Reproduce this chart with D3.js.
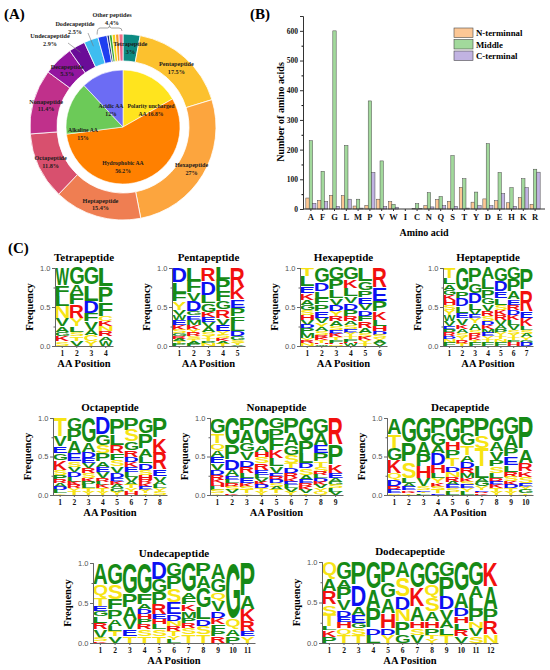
<!DOCTYPE html>
<html>
<head>
<meta charset="utf-8">
<script src="https://cdn.jsdelivr.net/npm/d3@7"></script>
<style>
body { margin: 0; background: #fff; }
</style>
</head>
<body>
<div id="fig"></div>
<script>
// ---------- data ----------
// (A) donut
var ringNames = ["Tetrapeptide", "Pentapeptide", "Hexapeptide", "Heptapeptide", "Octapeptide",
                 "Nonapeptide", "Decapeptide", "Undecapeptide", "Dodecapeptide",
                 "Other1", "Other2", "Other3", "Other4", "Other5", "Other6"];
var ringValues = [3, 17.5, 27, 15.4, 11.8, 11.4, 5.3, 2.9, 2.5, 1.6, 0.4, 0.5, 0.6, 0.6, 0.7];
var ringLabels = ["3%", "17.5%", "27%", "15.4%", "11.8%", "11.4%", "5.3%", "2.9%", "2.5%"];
var innerNames = ["Polarity uncharged", "Hydrophobic AA", "Alkaline AA", "Acidic AA"];
var innerValues = [16.8, 56.2, 15, 12];

// (B) bars
var aminoAcids = ["A","F","G","L","M","P","V","W","I","C","N","Q","S","T","Y","D","E","H","K","R"];
var nTerm  = [37, 29, 46, 45, 10, 12, 33, 25, 0, 2, 11, 32, 26, 73, 23, 34, 28, 21, 39, 16];
var middle = [230, 127, 600, 214, 33, 364, 162, 16, 0, 18, 55, 42, 180, 102, 57, 220, 123, 72, 102, 134];
var cTerm  = [19, 25, 9, 33, 3, 123, 8, 6, 0, 2, 7, 11, 9, 3, 11, 11, 52, 9, 72, 124];
var barTicks = [0, 100, 200, 300, 400, 500, 600];

// (C) sequence logos: one string per position, letters top to bottom with weights
var tetraLogo = [
  "W52 F33 L30 N35 V25 A17 G13 K15 S13",
  "G52 A28 F30 R40 Y25 L17 S13 T13 V15",
  "G52 L48 D35 F25 V25 A15 C18 Y15",
  "L55 P50 F40 C15 K15 N15 R15 A13 W15"];
var pentaLogo = [
  "D45 L30 F25 Y25 V15 W15 E15 K15 S10 G8 R8 A8 T8 P6",
  "L40 F35 V25 D30 G12 E13 M15 K15 Y10 R10 S8 T8 A6 P6",
  "R40 D40 L25 G25 K15 E15 V15 A15 S10 Y8 T8 P8 N6",
  "L35 P35 F30 G25 R25 V20 E20 Y10 S10 K8 A8 T7",
  "R60 K35 E25 P25 F20 L25 D15 G10 S8 Y6 V4"];
var hexaLogo = [
  "T25 L30 E20 K20 A15 G15 S15 H15 V15 D10 P15 M15 Y8 R7 N8",
  "G45 D25 L20 F20 P20 E20 V15 Y15 A10 S10 R8 K8 T7 H5 W5",
  "G35 P30 L25 V20 D20 Y15 R15 A15 S12 E10 K10 T8 F8 H5 N5",
  "G35 K25 L25 V20 D20 P20 R15 A12 S12 E10 Y10 T8 F8 H5 W8",
  "L40 G25 P20 E20 V20 D15 F15 R20 A15 S12 K10 Y8 T8",
  "R60 E40 P30 K25 L20 H15 D10 S10 Y8 A7 V8"];
var heptaLogo = [
  "T30 L20 A15 G15 K15 H15 S15 Y15 W20 V15 E10 P10 R10 D8 N10 F10",
  "G70 P20 D25 L20 E15 V20 K12 A12 S12 Y10 R10 T7",
  "P45 G30 D30 L20 V15 E10 Y15 A20 S12 R10 K8 T8 F10",
  "A35 L30 P25 G20 V20 R15 S15 D10 K12 M12 E10 Y10 T8 F11",
  "G40 D30 E20 L20 S15 K15 R15 V15 A12 P12 Y10 T8 N8 F13",
  "G35 P35 A25 E15 R15 D15 K15 L15 V15 S12 Y10 T8 F8 H10",
  "P65 R65 E20 K25 L12 S10 A10 Y8 G8 D10"];
var octaLogo = [
  "T57 V30 E20 G20 K30 S15 P15 R10 A10 D10 L10 Y5",
  "G37 P35 A35 E25 S15 V15 D15 L15 K10 R10 Y10 T10",
  "G77 A27 D18 E15 V15 R15 S15 K10 P10 L10 T10 Y10",
  "D50 G32 S25 P25 A15 E15 V20 R10 L10 K10 T10 Y10",
  "P50 L32 R25 F20 S20 V20 D15 E10 K10 A10 G10 Y10",
  "P37 S35 G25 R20 D15 K15 E15 L15 V15 A10 T10 Y10 H10",
  "G47 P45 A25 L20 D20 S15 H15 R10 K10 E10 Y10 T5",
  "P62 K45 R50 E20 V15 A10 L10 Y10 S10"];
var nonaLogo = [
  "G47 T30 Q20 A20 E20 V20 D15 R15 K10 H10 L10 S10 Y5",
  "G82 P45 D30 A20 E10 L10 R10 S10 V10 K5",
  "P37 A40 G25 V25 D20 R20 L15 E15 K10 S10 T10 Y5",
  "G82 A20 H15 S20 R20 E15 L10 V10 K10 D10 T10 Y10",
  "G32 P30 F35 K25 L25 V20 E10 R10 D10 S10 A10 T10 Y5",
  "P47 A35 G30 S25 T15 D15 R15 K10 E10 L10 V10 Y10",
  "G72 P35 L30 D15 S20 A15 E10 R10 K10 V10 T5",
  "G47 A35 E25 P25 T15 S15 R10 L10 D10 K10 V10 Y10 Q10",
  "R82 P60 K25 E15 A10 G10 S10 L10 V10"];
var decaLogo = [
  "A50 T42 G35 K40 Q20 D20 R10 E10 S5",
  "G77 P55 S50 L15 A10 E10 K5 R5 T5",
  "G72 A40 P35 H35 V25 S10 E5 T5 L5",
  "P47 G35 A25 D35 H25 L15 Y15 K10 S10 T10 E5",
  "G72 H25 P25 T25 D15 N15 R15 A10 E10 S10 L10",
  "P47 G35 T30 A20 D20 R15 M15 K10 S10 E10 Y10 L10",
  "P57 S35 T55 L35 A10 G15 Y10 E5 R5 K5",
  "G72 A30 V25 P20 S20 L15 R10 E10 K10 T10 Y10",
  "G52 A40 P25 E25 L20 R15 S15 K10 D10 T10 Y10",
  "P97 A40 R25 K15 S20 E10 Y10 G10 T5"];
var undecaLogo = [
  "A65 Q40 T25 E15 G15 L20 R20 V25 S10 K5",
  "G65 S45 F30 P30 A20 L15 T15 V20",
  "G95 P40 A35 V30 E20 T20",
  "G95 F30 A15 D15 H15 P15 R15 S20 T20",
  "D50 G40 P35 R30 E15 H15 L15 S20 T20",
  "G40 P40 S40 E35 D20 N15 R15 T15 Y10 L10",
  "G90 A15 F20 K20 M20 P15 R15 S20 T25",
  "P40 A35 G60 L35 D20 S25 T25",
  "A50 G40 Q25 V30 D20 K20 F20 P15 R20",
  "G170 Q30 A20 P20",
  "P100 A40 K35 R30 E15 Y20"];
var dodecaLogo = [
  "Q53 A35 R40 S30 T35 L10 K20 P18",
  "G53 A25 P35 V30 D20 E15 H20 Q20 T23",
  "P68 D65 A25 E25 G15 S20 T23",
  "G83 A55 P60 D20 L23",
  "P63 G45 A45 H45 D20 Y23",
  "A48 S55 D40 N35 P40 G23",
  "G78 K55 A45 H20 S20 V23",
  "G69 Q40 S40 A30 H20 P20 T12 Y12",
  "G44 P60 D40 V30 A25 L20 T24",
  "G89 A50 D25 H20 L20 R18 V21",
  "G74 A35 L35 P35 N20 V24 S20",
  "K74 A70 P35 R40 N24"];

// ---------- styles / layout ----------
var serif = "'Liberation Serif', 'Times New Roman', serif";
var ringColors = ["#0c8a82", "#fcc12e", "#fca53e", "#ef7e52", "#d8506e", "#c0308b", "#93159f",
                  "#6a0c98", "#3fbdf0", "#1f3ff0", "#1a2a80", "#38a838", "#f4d21a", "#f59a2a", "#f06c86"];
var innerColors = ["#ffe41e", "#ff8000", "#6cca58", "#6c6cf4"];
var barColors = ["#fcc795", "#a2d99c", "#c1b3e2"];
var aaColor = function(a) {
    if ("GAVLIPFWM".indexOf(a) >= 0) return "#168a16";
    if ("STYNQC".indexOf(a) >= 0) return "#f7e414";
    if ("DE".indexOf(a) >= 0) return "#0c10f2";
    return "#f2100e";
};

var svg = d3.select("#fig").append("svg")
    .attr("width", 550)
    .attr("height", 670)
    .style("font-family", serif);

svg.append("rect").attr("width", 550).attr("height", 670).attr("fill", "#fff");

var panelLab = [["(A)", 4, 19], ["(B)", 250, 19], ["(C)", 8, 253]];
panelLab.forEach(function(p) {
    svg.append("text").attr("x", p[1]).attr("y", p[2])
        .style("font-size", "15px").style("font-weight", "bold").text(p[0]);
});

// ---------- (A) donut ----------
var cx = 123, cy = 127;
var gA = svg.append("g").attr("transform", "translate(" + cx + "," + cy + ")");
var pie = d3.pie().sort(null).value(function(d) { return d; });
var ringArc = d3.arc().innerRadius(66).outerRadius(93);
var labelArc = d3.arc().innerRadius(80).outerRadius(80);
var innerArc = d3.arc().innerRadius(0).outerRadius(57);

var ringData = pie(ringValues);
gA.selectAll(".ring")
    .data(ringData)
    .enter().append("path")
    .attr("class", "ring")
    .attr("d", ringArc)
    .attr("fill", function(d, i) { return ringColors[i]; })
    .attr("stroke", "#fff")
    .attr("stroke-width", 0.8);

var innerData = pie(innerValues);
gA.selectAll(".inner")
    .data(innerData)
    .enter().append("path")
    .attr("class", "inner")
    .attr("d", innerArc)
    .attr("fill", function(d, i) { return innerColors[i]; })
    .attr("stroke", "#fff")
    .attr("stroke-width", 0.6);

var smallText = function(g, x, y, lines, size) {
    var t = g.append("text").attr("text-anchor", "middle")
        .style("font-size", (size || 6.2) + "px").style("font-weight", "bold").attr("fill", "#1c1c1c");
    lines.forEach(function(s, k) {
        t.append("tspan").attr("x", x).attr("y", y + k * 7.5).text(s);
    });
};

// labels inside the ring
ringData.slice(0, 7).forEach(function(d, i) {
    var c = labelArc.centroid(d);
    smallText(gA, c[0], c[1] - 1, [ringNames[i], ringLabels[i]]);
});

// outside labels with leader lines
var pt = function(d, r) {
    var a = (d.startAngle + d.endAngle) / 2;
    return [r * Math.sin(a), -r * Math.cos(a)];
};
var u = pt(ringData[7], 86);
gA.append("line").attr("x1", -55).attr("y1", -84).attr("x2", u[0]).attr("y2", u[1])
    .attr("stroke", "#777").attr("stroke-width", 0.6);
smallText(gA, -73, -89, [ringNames[7], ringLabels[7]]);
var dd = pt(ringData[8], 86);
gA.append("line").attr("x1", -35).attr("y1", -94).attr("x2", dd[0]).attr("y2", dd[1])
    .attr("stroke", "#777").attr("stroke-width", 0.6);
smallText(gA, -48, -101, [ringNames[8], ringLabels[8]]);

// brace over the small "other" slices
var a0 = ringData[9].startAngle, a1 = ringData[ringData.length - 1].endAngle;
var bx0 = 96 * Math.sin(a0), by0 = -96 * Math.cos(a0);
var bx1 = 96 * Math.sin(a1) - 1, by1 = -96 * Math.cos(a1);
var bm = (bx0 + bx1) / 2, bt = Math.min(by0, by1) - 3;
gA.append("path")
    .attr("d", "M" + bx0 + "," + by0 + " Q" + bx0 + "," + bt + " " + (bx0 + 3) + "," + bt +
        " L" + (bm - 2) + "," + bt + " Q" + bm + "," + bt + " " + bm + "," + (bt - 2.5) +
        " Q" + bm + "," + bt + " " + (bm + 2) + "," + bt +
        " L" + (bx1 - 3) + "," + bt + " Q" + bx1 + "," + bt + " " + bx1 + "," + by1)
    .attr("fill", "none").attr("stroke", "#666").attr("stroke-width", 0.6);
smallText(gA, -11, -110, ["Other peptides", "4.4%"]);

// inner pie labels
var innerLabPos = [[28, -19], [0, 38], [-40, 5], [-12, -19]];
var innerLines = [
    [innerNames[0], "AA   " + innerValues[0] + "%"],
    [innerNames[1], innerValues[1] + "%"],
    [innerNames[2], innerValues[2] + "%"],
    [innerNames[3], innerValues[3] + "%"]];
innerLabPos.forEach(function(p, i) {
    smallText(gA, p[0], p[1], innerLines[i], 5.7);
});

// ---------- (B) grouped bars ----------
var xB = d3.scaleBand().domain(aminoAcids).range([305, 541]).paddingInner(0.14).paddingOuter(0.07);
var xSub = d3.scaleBand().domain([0, 1, 2]).range([0, xB.bandwidth()]);
var yB = d3.scaleLinear().domain([0, 650]).range([209, 16]);
var gB = svg.append("g");

gB.append("g")
    .attr("transform", "translate(303,0)")
    .call(d3.axisLeft(yB).tickValues(d3.range(50, 650, 100)).tickSize(1.5).tickFormat(""))
    .call(function(g) { g.select(".domain").remove(); });
gB.append("g")
    .attr("class", "y axis")
    .attr("transform", "translate(303,0)")
    .call(d3.axisLeft(yB).tickValues(barTicks).tickSize(3).tickPadding(2))
    .selectAll("text")
    .attr("fill", "#111")
    .style("font-family", serif).style("font-weight", "bold").style("font-size", "7.5px");

var series = [nTerm, middle, cTerm];
series.forEach(function(s, k) {
    gB.selectAll(".bar" + k)
        .data(s)
        .enter().append("rect")
        .attr("class", "bar" + k)
        .attr("x", function(d, i) { return xB(aminoAcids[i]) + xSub(k); })
        .attr("width", xSub.bandwidth())
        .attr("y", function(d) { return yB(d); })
        .attr("height", function(d) { return yB(0) - yB(d); })
        .attr("fill", barColors[k])
        .attr("stroke", "#4a4a4a")
        .attr("stroke-width", 0.5);
});

gB.append("g")
    .attr("class", "x axis")
    .attr("transform", "translate(0,209)")
    .call(d3.axisBottom(xB).tickSize(2).tickPadding(3).tickSizeOuter(0))
    .call(function(g) { g.select(".domain").attr("d", "M303,0H545"); })
    .selectAll("text")
    .attr("fill", "#111")
    .style("font-family", serif).style("font-weight", "bold").style("font-size", "8.5px");
gB.selectAll(".axis path, .axis line").attr("stroke", "#333");

gB.append("text")
    .attr("transform", "translate(284,112) rotate(-90)")
    .attr("text-anchor", "middle")
    .style("font-size", "10px").style("font-weight", "bold")
    .text("Number of amino acids");
gB.append("text")
    .attr("x", 424).attr("y", 236)
    .attr("text-anchor", "middle")
    .style("font-size", "10px").style("font-weight", "bold")
    .text("Amino acid");

var legNames = ["N-terminnal", "Middle", "C-terminal"];
legNames.forEach(function(n, k) {
    gB.append("rect").attr("x", 454).attr("y", 28 + k * 11.5).attr("width", 19).attr("height", 9.5)
        .attr("fill", barColors[k]).attr("stroke", "#4a4a4a").attr("stroke-width", 0.6);
    gB.append("text").attr("x", 476).attr("y", 36 + k * 11.5)
        .style("font-size", "8.8px").style("font-weight", "bold").text(n);
});

// ---------- (C) sequence logos ----------
// letters are stretched to their box using the real ink bounds from a canvas
var ctx = document.createElement("canvas").getContext("2d");
var logoFont = "bold 100px 'Liberation Sans'";
ctx.font = logoFont;
var inkCache = {};
var ink = function(ch) {
    if (!inkCache[ch]) {
        var m = ctx.measureText(ch);
        inkCache[ch] = {l: -m.actualBoundingBoxLeft, r: m.actualBoundingBoxRight,
                        a: m.actualBoundingBoxAscent, d: m.actualBoundingBoxDescent};
    }
    return inkCache[ch];
};

var logoPanels = [
    {title: "Tetrapeptide", cols: tetraLogo, x0: 55, x1: 113, y0: 268, y1: 346, ty: 261},
    {title: "Pentapeptide", cols: pentaLogo, x0: 172, x1: 245, y0: 268, y1: 346, ty: 261},
    {title: "Hexapeptide", cols: hexaLogo, x0: 300, x1: 387, y0: 268, y1: 346, ty: 261},
    {title: "Heptapeptide", cols: heptaLogo, x0: 443, x1: 533, y0: 268, y1: 346, ty: 261},
    {title: "Octapeptide", cols: octaLogo, x0: 53, x1: 167, y0: 418, y1: 495, ty: 411},
    {title: "Nonapeptide", cols: nonaLogo, x0: 210, x1: 343, y0: 418, y1: 495, ty: 411},
    {title: "Decapeptide", cols: decaLogo, x0: 387, x1: 533, y0: 418, y1: 495, ty: 411},
    {title: "Undecapeptide", cols: undecaLogo, x0: 93, x1: 255, y0: 563, y1: 643, ty: 557},
    {title: "Dodecapeptide", cols: dodecaLogo, x0: 322, x1: 498, y0: 562, y1: 643, ty: 555}];

var drawLogo = function(p) {
    var n = p.cols.length;
    var x = d3.scaleBand().domain(d3.range(1, n + 1)).range([p.x0, p.x1]);
    var y = d3.scaleLinear().domain([0, 1]).range([p.y1, p.y0]);
    var g = svg.append("g");

    g.append("text").attr("x", (p.x0 + p.x1) / 2).attr("y", p.ty)
        .attr("text-anchor", "middle")
        .style("font-size", "11px").style("font-weight", "bold").text(p.title);

    var letters = g.append("g").attr("class", "letters");
    p.cols.forEach(function(col, i) {
        var items = col.split(" ").map(function(s) { return {aa: s[0], w: +s.slice(1)}; });
        var total = d3.sum(items, function(d) { return d.w; });
        var acc = 1;
        items.forEach(function(d) { d.top = acc; acc -= d.w / total; d.bot = acc; });
        var bw = x.bandwidth();
        letters.append("g").selectAll("text")
            .data(items)
            .enter().append("text")
            .attr("x", 0).attr("y", 0)
            .style("font", logoFont)
            .attr("fill", function(d) { return aaColor(d.aa); })
            .attr("transform", function(d) {
                var m = ink(d.aa);
                var bx = x(i + 1) + bw * 0.03, by = y(d.top);
                var h = (y(d.bot) - y(d.top)) * 0.96;
                var sx = bw * 0.94 / (m.r - m.l), sy = h / (m.a + m.d);
                return "translate(" + bx + "," + by + ") scale(" + sx + "," + sy + ") translate(" + (-m.l) + "," + m.a + ")";
            })
            .text(function(d) { return d.aa; });
    });

    var yAx = g.append("g").attr("transform", "translate(" + p.x0 + ",0)");
    yAx.call(d3.axisLeft(y).tickValues([0.25, 0.75]).tickSize(1.5).tickFormat(""));
    yAx.append("g").call(d3.axisLeft(y).tickValues([0, 0.5, 1]).tickSize(3).tickPadding(1.5)
        .tickFormat(d3.format(".1f")))
        .selectAll("text")
        .style("font-family", "'Liberation Sans', Arial, sans-serif").style("font-size", "7.5px")
        .attr("fill", "#555");

    g.append("g")
        .attr("transform", "translate(0," + p.y1 + ")")
        .call(d3.axisBottom(x).tickSize(2).tickPadding(3).tickSizeOuter(0))
        .selectAll("text")
        .attr("fill", "#111")
        .style("font-family", serif).style("font-weight", "bold").style("font-size", "7.5px");
    g.selectAll("path.domain, .tick line").attr("stroke", "#666");

    g.append("text")
        .attr("transform", "translate(" + (p.x0 - 22) + "," + ((p.y0 + p.y1) / 2) + ") rotate(-90)")
        .attr("text-anchor", "middle")
        .style("font-size", "10.5px").style("font-weight", "bold").text("Frequency");
    g.append("text")
        .attr("x", (p.x0 + p.x1) / 2).attr("y", p.y1 + 21)
        .attr("text-anchor", "middle")
        .style("font-size", "10.5px").style("font-weight", "bold").text("AA Position");
};

logoPanels.forEach(drawLogo);
</script>
</body>
</html>
